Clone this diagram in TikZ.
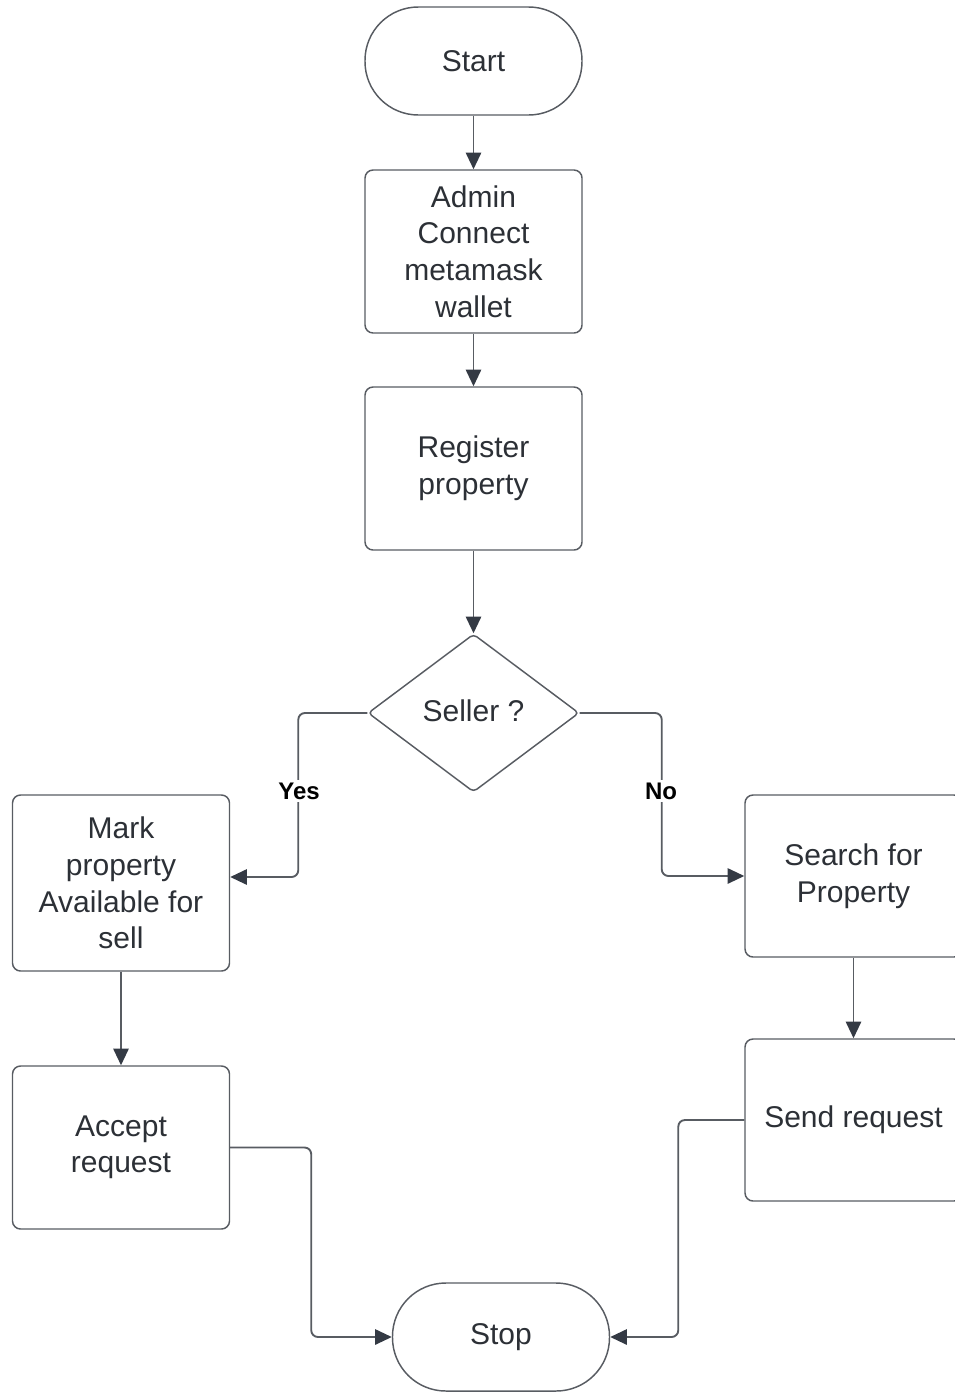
\documentclass[tikz,border=0pt]{standalone}
\usepackage{fontspec}
\setmainfont{Liberation Sans}
\usetikzlibrary{arrows.meta,shapes.geometric}

\definecolor{linegray}{RGB}{88,92,98}
\definecolor{arrowdark}{RGB}{52,58,68}
\definecolor{textgray}{RGB}{44,48,54}

\tikzset{every picture/.style={line width=0.75pt}}
\tikzset{
  box/.style={draw=linegray, line width=1.1pt, rounded corners=6pt, minimum width=162.75pt, minimum height=122.25pt, align=center, text=textgray, font=\fontsize{22.5}{27.4}\selectfont, inner sep=0pt},
  terminal/.style={box, rounded corners=40pt, minimum height=81pt},
  decision/.style={draw=linegray, line width=1.1pt, diamond, rounded corners=3pt, minimum width=158.25pt, minimum height=118.5pt, inner sep=0pt, text=textgray, font=\fontsize{22.5}{27.4}\selectfont},
  flow/.style={draw=linegray, line width=1.4pt, rounded corners=5pt, -{Triangle[length=12.5pt,width=11.5pt,color=arrowdark]}},
  branch/.style={fill=white, inner sep=2pt, text=black, font=\fontsize{18}{21}\selectfont\bfseries}
}

\begin{document}
\begin{tikzpicture}[x=0.75pt,y=0.75pt,yscale=-1,xscale=1]
\useasboundingbox (0,0) rectangle (954,1392);

%Shape: Terminal [id:start]
\node[terminal] (start) at (473.5,61) {Start};
%Shape: Rectangle [id:admin]
\node[box] (admin) at (473.5,251.5) {Admin\\Connect\\metamask\\wallet};
%Shape: Rectangle [id:register]
\node[box] (register) at (473.5,468.5) {Register\\property};
%Shape: Diamond [id:seller]
\node[decision] (seller) at (473.5,713) {\raisebox{4pt}{Seller ?}};
%Shape: Rectangle [id:mark]
\node[box, minimum height=132pt] (mark) at (121,883) {Mark\\property\\Available for\\sell};
%Shape: Rectangle [id:accept]
\node[box] (accept) at (121,1147.5) {Accept\\request};
%Shape: Rectangle [id:search]
\node[box, minimum height=121.5pt] (search) at (853.5,876) {Search for\\Property};
%Shape: Rectangle [id:send]
\node[box, minimum height=121.5pt] (send) at (853.5,1120) {Send request};
%Shape: Terminal [id:stop]
\node[terminal] (stop) at (501,1337) {Stop};

%Connectors
\draw[flow] (start) -- (admin);
\draw[flow] (admin) -- (register);
\draw[flow] (register) -- (seller);
\draw[flow] (seller.west) -- ++(-69,0) |- ([yshift=-4.5pt]mark.east);
\draw[flow] (seller.east) -- ++(82,0) |- (search.west);
\draw[flow] (mark) -- (accept);
\draw[flow] (search) -- (send);
\draw[flow] (accept.east) -- ++(81,0) |- (stop.west);
\draw[flow] (send.west) -- ++(-66,0) |- (stop.east);

% Text Node
\node[branch] (yes) at (299,791) {Yes};
% Text Node
\node[branch] (no) at (661,791) {No};

\end{tikzpicture}
\end{document}
